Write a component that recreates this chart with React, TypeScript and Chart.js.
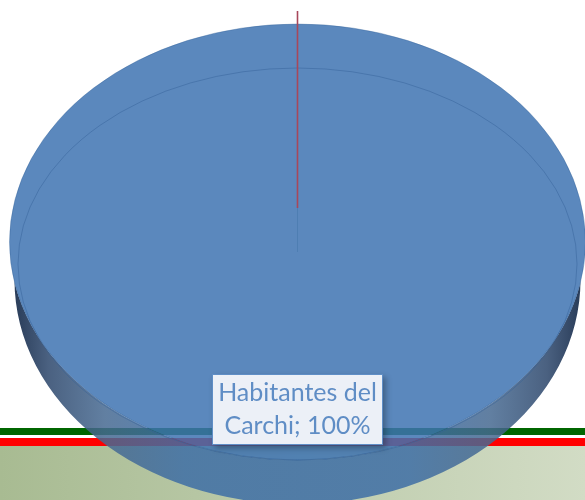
import React, { useEffect, useRef } from "react";
import { Chart, registerables } from "chart.js";

Chart.register(...registerables);

const categories = ["Habitantes del Carchi"];
const values = [100];
const dataLabelLines = ["Habitantes del", `Carchi; ${values[0]}%`];

const W = 585;
const H = 500;
const FILL = "rgba(62,115,177,0.85)";
const TOP = { cx: 297.5, cy: 242, rx: 288, ry: 218 };
const SIDE = { cx: 297.5, cy: 280, rx: 283, ry: 224 };
const INNER = { cx: 297.5, cy: 264, rx: 279.5, ry: 196 };

type Ell = { cx: number; cy: number; rx: number; ry: number };

function mapTo(ctx: CanvasRenderingContext2D, arc: any, e: Ell) {
  const R = arc.outerRadius;
  ctx.translate(e.cx, e.cy);
  ctx.scale(e.rx / R, e.ry / R);
  ctx.translate(-arc.x, -arc.y);
}

const discPlugin = {
  id: "disc",
  beforeDraw(chart: any) {
    const ctx: CanvasRenderingContext2D = chart.ctx;
    ctx.save();
    ctx.fillStyle = "#ffffff";
    ctx.fillRect(0, 0, W, H);
    ctx.fillStyle = "#006600";
    ctx.fillRect(0, 428, W, 7);
    ctx.fillStyle = "#ff0000";
    ctx.fillRect(0, 438, W, 8);
    const g = ctx.createLinearGradient(0, 0, W, 0);
    g.addColorStop(0, "#a8bb92");
    g.addColorStop(1, "#d2dcc5");
    ctx.fillStyle = g;
    ctx.fillRect(0, 446, W, H - 446);
    ctx.restore();
  },
  beforeDatasetDraw(chart: any) {
    const ctx: CanvasRenderingContext2D = chart.ctx;
    const arc = chart.getDatasetMeta(0).data[0];
    const original = arc.options;
    // extruded side wall: the same slice, pushed down, outside the top face
    ctx.save();
    ctx.beginPath();
    ctx.rect(0, 0, W, H);
    ctx.ellipse(TOP.cx, TOP.cy, TOP.rx, TOP.ry, 0, 0, Math.PI * 2);
    ctx.clip("evenodd");
    ctx.save();
    mapTo(ctx, arc, SIDE);
    const R = arc.outerRadius;
    const g = ctx.createLinearGradient(arc.x - R, 0, arc.x + R, 0);
    g.addColorStop(0, "rgba(30,50,80,0.95)");
    g.addColorStop(0.06, "rgba(55,80,115,0.9)");
    g.addColorStop(0.16, "rgba(70,105,145,0.85)");
    g.addColorStop(0.3, "rgba(62,110,165,0.85)");
    g.addColorStop(0.7, "rgba(62,110,165,0.85)");
    g.addColorStop(0.84, "rgba(70,105,145,0.85)");
    g.addColorStop(0.94, "rgba(55,80,115,0.9)");
    g.addColorStop(1, "rgba(30,50,80,0.95)");
    arc.options = { ...original, backgroundColor: g };
    arc.draw(ctx);
    arc.options = original;
    ctx.restore();
    ctx.restore();
    // top face
    ctx.save();
    mapTo(ctx, arc, TOP);
  },
  afterDatasetDraw(chart: any) {
    const ctx: CanvasRenderingContext2D = chart.ctx;
    ctx.restore();
    ctx.save();
    ctx.lineWidth = 1;
    ctx.strokeStyle = "rgba(50,95,150,0.35)";
    ctx.beginPath();
    ctx.ellipse(TOP.cx, TOP.cy, TOP.rx, TOP.ry, 0, 0, Math.PI * 2);
    ctx.stroke();
    ctx.strokeStyle = "rgba(50,95,150,0.45)";
    ctx.beginPath();
    ctx.ellipse(INNER.cx, INNER.cy, INNER.rx, INNER.ry, 0, 0, Math.PI * 2);
    ctx.stroke();
    ctx.strokeStyle = "rgba(70,120,170,0.6)";
    ctx.beginPath();
    ctx.moveTo(297.5, 208);
    ctx.lineTo(297.5, 252);
    ctx.stroke();
    ctx.lineWidth = 1.6;
    ctx.strokeStyle = "#a8475a";
    ctx.beginPath();
    ctx.moveTo(297.5, 11);
    ctx.lineTo(297.5, 208);
    ctx.stroke();
    ctx.restore();
  },
  afterDraw(chart: any) {
    const ctx: CanvasRenderingContext2D = chart.ctx;
    ctx.save();
    ctx.shadowColor = "rgba(0,0,0,0.3)";
    ctx.shadowBlur = 6;
    ctx.shadowOffsetX = 3;
    ctx.shadowOffsetY = 3;
    ctx.fillStyle = "#ecf0f7";
    ctx.fillRect(212, 374, 171, 71);
    ctx.shadowColor = "transparent";
    ctx.strokeStyle = "#5f8ec6";
    ctx.lineWidth = 1;
    ctx.strokeRect(212.5, 374.5, 170, 70);
    ctx.fillStyle = "#5f8dc5";
    ctx.font = '25px Lato, "Open Sans", sans-serif';
    ctx.textAlign = "center";
    ctx.textBaseline = "alphabetic";
    ctx.fillText(dataLabelLines[0], 297.5, 401);
    ctx.fillText(dataLabelLines[1], 297.5, 434);
    ctx.restore();
  },
};

export default function App() {
  const ref = useRef<HTMLCanvasElement>(null);
  useEffect(() => {
    const chart = new Chart(ref.current!, {
      type: "pie",
      data: {
        labels: categories,
        datasets: [
          {
            data: values,
            backgroundColor: [FILL],
            borderWidth: 0,
            clip: false,
          } as any,
        ],
      },
      options: {
        responsive: false,
        animation: false,
        layout: { padding: 0 },
        plugins: { legend: { display: false }, tooltip: { enabled: false } },
      },
      plugins: [discPlugin as any],
    });
    return () => chart.destroy();
  }, []);
  return (
    <div style={{ position: "absolute", left: 0, top: 0, width: W, height: H }}>
      <canvas ref={ref} width={W} height={H} style={{ display: "block" }} />
    </div>
  );
}
